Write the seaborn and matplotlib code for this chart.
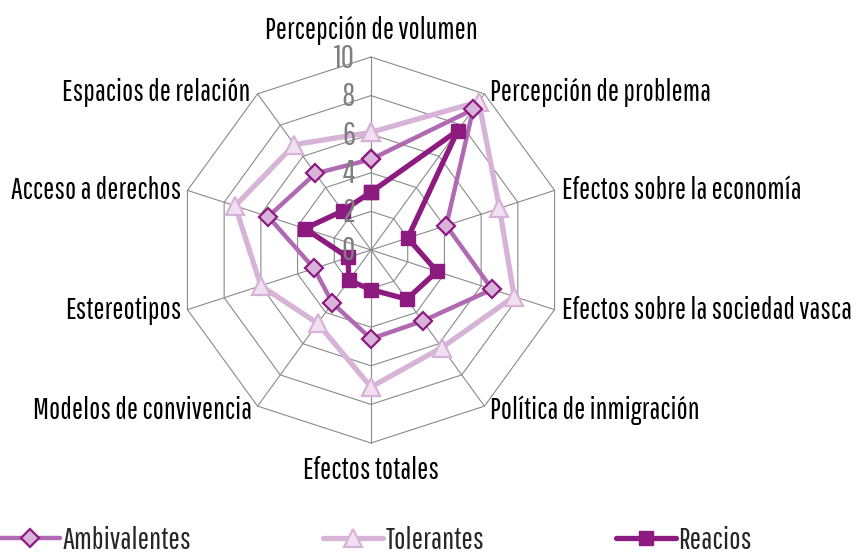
import numpy as np
import pandas as pd
import matplotlib
matplotlib.use("Agg")
import matplotlib.pyplot as plt
from matplotlib.lines import Line2D
from matplotlib import font_manager as fm
import seaborn as sns

categories = ["Percepción de volumen", "Percepción de problema", "Efectos sobre la economía",
              "Efectos sobre la sociedad vasca", "Política de inmigración", "Efectos totales",
              "Modelos de convivencia", "Estereotipos", "Acceso a derechos", "Espacios de relación"]
ambivalentes = [4.7, 9.0, 4.1, 6.6, 4.55, 4.6, 3.4, 3.1, 5.6, 4.9]
tolerantes = [6.1, 9.5, 7.0, 7.8, 6.25, 7.1, 4.7, 6.0, 7.4, 6.75]
reacios = [3.0, 7.65, 2.0, 3.6, 3.15, 2.05, 1.95, 1.25, 3.6, 2.5]
series_names = ["Ambivalentes", "Tolerantes", "Reacios"]
radial_ticks = [0, 2, 4, 6, 8, 10]

sns.set_theme(style="white")
available = {f.name for f in fm.fontManager.ttflist}
main_font = next((f for f in ['Pathway Gothic One', 'Archivo Narrow', 'PT Sans Narrow',
                              'Roboto Condensed', 'DejaVu Sans'] if f in available), 'DejaVu Sans')
plt.rcParams['font.family'] = [main_font, 'DejaVu Sans']

fig = plt.figure(figsize=(8.61, 5.57), dpi=100)
renderer = fig.canvas.get_renderer()


def fit_size(text, target_px):
    t = fig.text(0, 0, text, fontsize=20)
    w = t.get_window_extent(renderer).width
    t.remove()
    return 20 * target_px / w


cat_fs = fit_size("Percepción de volumen", 212)
tick_fs = fit_size("10", 21)
leg_fs = fit_size("Ambivalentes", 128)

n = len(categories)
theta = np.arange(n) * 2 * np.pi / n
theta_closed = np.append(theta, theta[0])

cx, cy, R = 371 / 861, 1 - 250 / 557, 193
ax = fig.add_axes([cx - R / 861, cy - R / 557, 2 * R / 861, 2 * R / 557], projection='polar')
ax.set_theta_offset(np.pi / 2)
ax.set_theta_direction(-1)
ax.set_ylim(0, 10)
ax.grid(False)
ax.spines['polar'].set_visible(False)
ax.patch.set_alpha(0)

grid_color = '#8a8a8a'
for r in radial_ticks[1:]:
    ax.plot(theta_closed, [r] * (n + 1), color=grid_color, lw=0.8, clip_on=False, zorder=1)
for t in theta:
    ax.plot([t, t], [0, 10], color=grid_color, lw=0.8, clip_on=False, zorder=1)

styles = {
    "Ambivalentes": dict(color='#b06ab3', marker='D', markersize=9.5, markerfacecolor='#d9b4da',
                         markeredgecolor='#8c1a80', markeredgewidth=1.6, lw=3.2),
    "Tolerantes": dict(color='#d8b3d8', marker='^', markersize=13.5, markerfacecolor='#f1e0f1',
                       markeredgecolor='#d8b3d8', markeredgewidth=1.6, lw=3.8),
    "Reacios": dict(color='#8c1a7f', marker='s', markersize=10, markerfacecolor='#8c1a7f',
                    markeredgecolor='#8c1a7f', markeredgewidth=1, lw=3.8),
}
data = {"Ambivalentes": ambivalentes, "Tolerantes": tolerantes, "Reacios": reacios}
for z, name in zip([3, 2, 4], series_names):
    vals = list(data[name]) + [data[name][0]]
    df = pd.DataFrame({"theta": theta_closed, "value": vals})
    sns.lineplot(data=df, x="theta", y="value", sort=False, estimator=None, ax=ax,
                 zorder=z, clip_on=False, **styles[name])
ax.set_xlabel("")
ax.set_ylabel("")
ax.set_xticks([])
ax.set_yticks([])
ax.set_ylim(0, 10)
if ax.get_legend() is not None:
    ax.get_legend().remove()

# radial tick labels
for r in radial_ticks:
    ax.annotate(str(r), xy=(0, r), xytext=(-16, -10.5), textcoords='offset pixels',
                ha='right', va='baseline', fontsize=tick_fs, color='#7f7f7f', annotation_clip=False,
                zorder=5)

# category labels (offsets in pixels)
label_pos = [
    ((0, 18), 'center'),
    ((6, -7), 'left'),
    ((7, -9), 'left'),
    ((7, -9), 'left'),
    ((6, -13), 'left'),
    ((0, -36), 'center'),
    ((-6, -13), 'right'),
    ((-6, -9), 'right'),
    ((-6, -9), 'right'),
    ((-7, -7), 'right'),
]
for t, lab, (off, ha) in zip(theta, categories, label_pos):
    ax.annotate(lab, xy=(t, 10), xytext=off, textcoords='offset pixels', ha=ha, va='baseline',
                fontsize=cat_fs, color='black', annotation_clip=False)

em_px = leg_fs * 100 / 72
handles = [Line2D([0], [0], **styles[nm]) for nm in series_names]
fig.legend(handles, series_names, loc='lower left', bbox_to_anchor=(0, 0.004), ncol=3,
           frameon=False, borderaxespad=0, borderpad=0, handlelength=60 / em_px,
           handletextpad=3 / em_px, columnspacing=131 / em_px, fontsize=leg_fs)

fig.savefig("out.png", dpi=100)
